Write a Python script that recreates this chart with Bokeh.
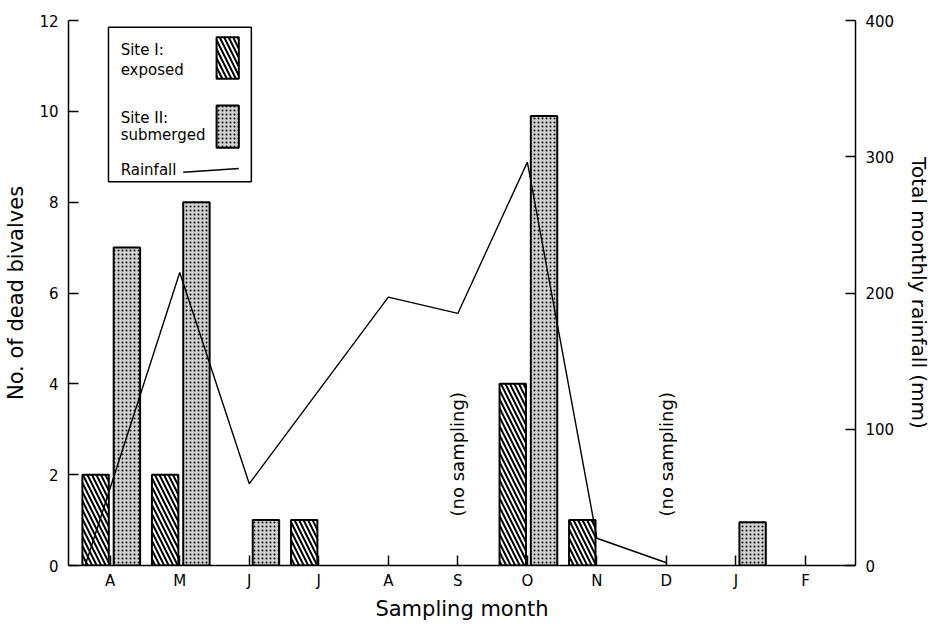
import math
from bokeh.plotting import figure
from bokeh.models import Range1d, LinearAxis, Label, FixedTicker
from bokeh.core.properties import value
from bokeh.embed import file_html
from bokeh.resources import INLINE

FONT = "DejaVu Sans"

# ---- data ----
months = ["A", "M", "J", "J", "A", "S", "O", "N", "D", "J", "F"]
month_pos = list(range(len(months)))

site1_pos = [0, 1, 3, 6, 7]          # Site I: exposed
site1_vals = [2, 2, 1, 4, 1]
site2_pos = [0, 1, 2, 6, 9]          # Site II: submerged
site2_vals = [7, 8, 1, 9.9, 0.95]

rain_pos = [-0.36, 1, 2, 4, 5, 6, 7, 8]
rain_vals = [0, 215, 60, 197, 185, 296, 20, 2]

no_sampling_pos = [5, 8]

count_ticks = [0, 2, 4, 6, 8, 10, 12]
rain_ticks = [0, 100, 200, 300, 400]

# ---- figure ----
p = figure(frame_width=787, frame_height=545,
           x_range=Range1d(-0.6, 10.72), y_range=Range1d(0, 12),
           output_backend="svg", toolbar_location=None,
           min_border_left=68, min_border_right=66,
           min_border_top=20, min_border_bottom=43)
p.outline_line_color = None
p.grid.visible = False
p.background_fill_color = "white"

p.extra_y_ranges = {"rain": Range1d(0, 400)}

BAR_W = 0.38
off1, off2 = -0.21, 0.24
HATCH1 = dict(hatch_pattern="\\", hatch_scale=9, hatch_weight=2, hatch_color="black")
HATCH2 = dict(hatch_pattern=".", hatch_scale=4, hatch_weight=3, hatch_color="black")
STIPPLE_BG = "#d2d2d2"

p.vbar(x=[x + off1 for x in site1_pos], top=site1_vals, width=BAR_W, bottom=0,
       fill_color="white", line_color="black", line_width=2, **HATCH1)
p.vbar(x=[x + off2 for x in site2_pos], top=site2_vals, width=BAR_W, bottom=0,
       fill_color=STIPPLE_BG, line_color="black", line_width=2, **HATCH2)

p.line(rain_pos, rain_vals, y_range_name="rain", line_color="black", line_width=1.4)

for xs in no_sampling_pos:
    p.add_layout(Label(x=xs, y=2.45, text="(no sampling)", angle=math.pi / 2,
                       text_align="center", text_baseline="middle",
                       text_font=FONT, text_font_size="18px", text_color="black"))

# ---- axes ----
ax_style = dict(axis_line_width=1.5, major_tick_line_width=1.5,
                major_tick_in=10, major_tick_out=0, minor_tick_in=0, minor_tick_out=0,
                major_label_text_font=FONT, major_label_text_font_size="15px",
                axis_label_text_font=FONT, axis_label_text_font_size="21px",
                axis_label_text_font_style="normal", major_label_text_color="black",
                axis_label_text_color="black")

xa = p.xaxis[0]
xa.ticker = FixedTicker(ticks=month_pos)
xa.major_label_overrides = {i: m for i, m in zip(month_pos, months)}
xa.axis_label = "Sampling month"
for k, v in ax_style.items():
    setattr(xa, k, v)
xa.major_label_standoff = 6
xa.axis_label_standoff = 4

ya = p.yaxis[0]
ya.ticker = FixedTicker(ticks=count_ticks)
ya.axis_label = "No. of dead bivalves"
for k, v in ax_style.items():
    setattr(ya, k, v)
ya.major_label_standoff = 10
ya.axis_label_standoff = 8

ra = LinearAxis(y_range_name="rain", ticker=FixedTicker(ticks=rain_ticks),
                axis_label="Total monthly rainfall (mm)")
for k, v in ax_style.items():
    setattr(ra, k, v)
ra.axis_label_text_font_size = "20px"
ra.major_label_standoff = 10
ra.axis_label_standoff = 10
p.add_layout(ra, "right")

# ---- legend (drawn) ----
p.quad(left=[-0.025], right=[2.03], top=[11.85], bottom=[8.45],
       fill_color="white", line_color="black", line_width=1.5)
p.quad(left=[1.53], right=[1.85], top=[11.63], bottom=[10.72],
       fill_color="white", line_color="black", line_width=2, **HATCH1)
p.quad(left=[1.53], right=[1.85], top=[10.13], bottom=[9.2],
       fill_color=STIPPLE_BG, line_color="black", line_width=2, **HATCH2)
p.line([1.05, 1.85], [8.66, 8.74], line_color="black", line_width=1.4)
p.text(x=[0.15, 0.15, 0.15, 0.15, 0.15],
       y=[11.34, 10.90, 9.86, 9.47, 8.70],
       text=["Site I:", "exposed", "Site II:", "submerged", "Rainfall"],
       text_font=value(FONT), text_font_size="15px", text_color="black",
       text_align="left", text_baseline="middle")

open("out.html", "w").write(file_html(p, INLINE))
